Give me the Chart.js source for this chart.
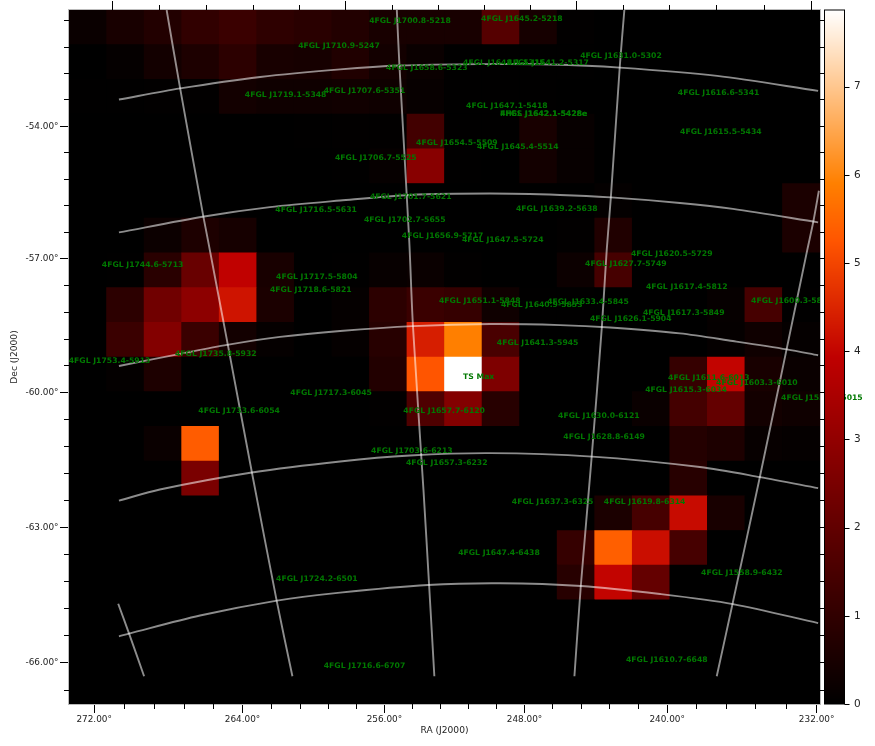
<!DOCTYPE html>
<html>
<head>
<meta charset="utf-8">
<title>TS map</title>
<script src="https://cdn.jsdelivr.net/npm/chart.js@4/dist/chart.umd.min.js"></script>
<style>
  html, body { margin: 0; padding: 0; background: #fff; }
  canvas { display: block; }
</style>
</head>
<body>
<canvas id="tsMap" width="875" height="746"></canvas>
<script>
// all positions are in map pixels: 20 x 20 cells, row 0 on top (WCS image axes)
const tsMax = 7.87;
const tsValues = [
  [.2, .5, .7, 1, 1.2, .95, .85, .7, .5, .5, .5, 1.75, .45, .05, 0, 0, 0, 0, 0, 0],
  [0, .1, .4, .6, .9, .5, .45, .65, .4, .2, .03, .03, .03, .03, 0, 0, 0, 0, 0, 0],
  [.02, .02, .05, .05, .4, .3, .3, .35, .3, .15, .02, .02, .02, 0, 0, 0, 0, 0, 0, 0],
  [0, 0, 0, 0, 0, 0, .03, .05, .05, 1.35, .02, .02, .5, .15, 0, 0, 0, 0, 0, 0],
  [0, 0, 0, 0, 0, 0, 0, .03, .12, 2.8, .02, 0, .4, .15, 0, 0, 0, 0, 0, 0],
  [0, 0, 0, 0, 0, 0, 0, 0, 0, 0, 0, 0, 0, 0, .08, 0, 0, 0, 0, .55],
  [0, 0, .25, .6, .45, 0, 0, 0, 0, 0, 0, 0, 0, .05, .65, 0, 0, 0, 0, .55],
  [0, .03, .85, 2.15, 3.95, .5, 0, .03, .15, .2, .05, 0, 0, .25, 1.45, 0, 0, 0, 0, 0],
  [0, .9, 2.3, 2.9, 4.24, .55, 0, .1, .9, 1.2, 1.1, .3, .03, .03, 0, 0, 0, .12, 1.45, .03],
  [0, 1.2, 2.7, 1.2, .4, .1, 0, .1, .8, 4.4, 5.9, 1.5, 0, 0, 0, 0, 0, .1, .3, .1],
  [0, .08, .6, 0, 0, 0, 0, 0, .7, 5.25, 7.87, 2.6, 0, 0, 0, 0, 1.1, 4, .5, .2],
  [0, 0, 0, 0, 0, 0, 0, 0, .05, 1.6, 2.7, .8, 0, 0, 0, .2, 1.4, 2.05, .4, .3],
  [0, 0, .2, 5.35, 0, 0, 0, 0, 0, 0, 0, 0, 0, 0, 0, 0, .75, .6, .15, .1],
  [0, 0, 0, 2.5, 0, 0, 0, 0, 0, 0, 0, 0, 0, 0, 0, 0, .8, 0, 0, 0],
  [0, 0, 0, 0, 0, 0, 0, 0, 0, 0, 0, 0, 0, 0, .55, 1.45, 4.1, .5, 0, 0],
  [0, 0, 0, 0, 0, 0, 0, 0, 0, 0, 0, 0, 0, 1.1, 5.4, 4.15, 1.45, 0, 0, 0],
  [0, 0, 0, 0, 0, 0, 0, 0, 0, 0, 0, 0, 0, .8, 4, 2.05, 0, 0, 0, 0],
  [0, 0, 0, 0, 0, 0, 0, 0, 0, 0, 0, 0, 0, 0, 0, 0, 0, 0, 0, 0],
  [0, 0, 0, 0, 0, 0, 0, 0, 0, 0, 0, 0, 0, 0, 0, 0, 0, 0, 0, 0],
  [0, 0, 0, 0, 0, 0, 0, 0, 0, 0, 0, 0, 0, 0, 0, 0, 0, 0, 0, 0]
];

const sourceNames = [
  '4FGL J1700.8-5218', '4FGL J1645.2-5218', '4FGL J1710.9-5247', '4FGL J1658.6-5323', '4FGL J1648.1-5315',
  '4FGL J1641.2-5317', '4FGL J1631.0-5302', '4FGL J1719.1-5348', '4FGL J1707.6-5351', '4FGL J1647.1-5418',
  '4FGL J1642.1-5428e', 'FHES J1642.1-5428e', '4FGL J1616.6-5341', '4FGL J1615.5-5434', '4FGL J1654.5-5509',
  '4FGL J1645.4-5514', '4FGL J1706.7-5525', '4FGL J1701.7-5621', '4FGL J1716.5-5631', '4FGL J1702.7-5655',
  '4FGL J1639.2-5638', '4FGL J1656.9-5717', '4FGL J1647.5-5724', '4FGL J1744.6-5713', '4FGL J1717.5-5804',
  '4FGL J1718.6-5821', '4FGL J1620.5-5729', '4FGL J1627.7-5749', '4FGL J1617.4-5812', '4FGL J1600.3-5811',
  '4FGL J1617.3-5849', '4FGL J1626.1-5904', '4FGL J1633.4-5845', '4FGL J1651.1-5848', '4FGL J1640.9-5853',
  '4FGL J1641.3-5945', '4FGL J1753.4-5913', '4FGL J1735.8-5932', '4FGL J1717.3-6045', '4FGL J1733.6-6054',
  '4FGL J1657.7-6120', 'TS Max', '4FGL J1630.0-6121', '4FGL J1628.8-6149', '4FGL J1703.6-6213',
  '4FGL J1657.3-6232', '4FGL J1611.6-6013', '4FGL J1603.3-6010', '4FGL J1615.3-6034', '4FGL J1559.4-6015',
  '4FGL J1637.3-6325', '4FGL J1619.8-6314', '4FGL J1647.4-6438', '4FGL J1558.9-6432', '4FGL J1724.2-6501',
  '4FGL J1716.6-6707', '4FGL J1610.7-6648'
];
const sourceX = [
  9.08, 12.06, 7.19, 9.53, 11.58, 12.76, 14.70, 5.77, 7.87, 11.66,
  12.64, 12.64, 17.30, 17.36, 10.33, 11.95, 8.17, 9.10, 6.58, 8.94,
  12.99, 9.95, 11.55, 1.96, 6.60, 6.44, 16.05, 14.83, 16.45, 19.25,
  16.37, 14.96, 13.82, 10.94, 12.59, 12.48, 1.08, 3.91, 6.98, 4.53,
  9.99, 10.91, 14.11, 14.25, 9.13, 10.06, 17.04, 18.32, 16.43, 20.05,
  12.88, 15.33, 11.45, 17.92, 6.60, 7.87, 15.92
];
const sourceY = [
  .31, .27, 1.03, 1.66, 1.53, 1.54, 1.32, 2.44, 2.33, 2.76,
  2.99, 2.99, 2.38, 3.51, 3.82, 3.94, 4.26, 5.38, 5.76, 6.06,
  5.73, 6.50, 6.64, 7.34, 7.69, 8.06, 7.02, 7.31, 7.97, 8.38,
  8.72, 8.90, 8.41, 8.38, 8.49, 9.59, 10.11, 9.90, 11.03, 11.55,
  11.55, 10.57, 11.69, 12.30, 12.70, 13.05, 10.60, 10.74, 10.94, 11.17,
  14.19, 14.17, 15.66, 16.22, 16.41, 18.90, 18.72
];

// coordinate grid, constant Dec then constant RA
const gridLinesX = [
  [1.33, 2.96, 5.09, 7.22, 8.81, 10.95, 12.81, 14.67, 17.26, 19.95],
  [1.33, 3.60, 5.35, 7.22, 9.08, 11.21, 13.08, 14.43, 16.27, 17.68, 19.95],
  [1.33, 2.96, 4.21, 5.62, 7.22, 9.16, 11.21, 13.08, 14.41, 16.27, 17.68, 19.12, 19.95],
  [1.33, 2.42, 4.87, 7.22, 9.08, 11.21, 13.93, 16.80, 18.40, 19.95],
  [1.33, 1.60, 3.49, 5.54, 7.22, 9.56, 11.48, 13.64, 15.74, 17.68, 19.95],
  [1.31, 1.60, 2.00],
  [2.60, 2.96, 3.58, 3.70, 4.23, 4.87, 5.53, 5.95],
  [8.73, 8.80, 9.06, 9.16, 9.44, 9.59, 9.73],
  [14.79, 14.67, 14.43, 14.32, 14.19, 13.92, 13.63, 13.46],
  [19.97, 19.82, 19.66, 19.11, 18.40, 17.67, 17.25]
];
const gridLinesY = [
  [2.58, 2.26, 1.93, 1.71, 1.60, 1.56, 1.57, 1.66, 1.90, 2.33],
  [6.41, 5.95, 5.68, 5.49, 5.33, 5.29, 5.33, 5.40, 5.56, 5.73, 6.12],
  [10.26, 9.91, 9.65, 9.42, 9.25, 9.11, 9.05, 9.08, 9.15, 9.32, 9.54, 9.78, 9.95],
  [14.14, 13.82, 13.33, 13.01, 12.84, 12.77, 12.87, 13.17, 13.46, 13.78],
  [18.05, 17.97, 17.45, 17.02, 16.79, 16.57, 16.52, 16.60, 16.83, 17.12, 17.67],
  [17.11, 17.97, 19.20],
  [0, 2.26, 5.96, 6.63, 9.65, 13.32, 17.02, 19.20],
  [0, 1.60, 6.63, 9.11, 13.83, 16.57, 19.20],
  [0, 1.60, 5.40, 6.92, 9.14, 12.87, 16.60, 19.20],
  [5.21, 6.11, 6.92, 9.78, 13.45, 17.12, 19.20]
];

const raTicks = [0.67, 4.62, 8.40, 12.13, 15.93, 19.91];
const raLabels = ['272.00°', '264.00°', '256.00°', '248.00°', '240.00°', '232.00°'];
const raMinorTicks = [1.47, 2.27, 3.07, 3.84, 5.39, 6.16, 6.91, 7.65, 9.14, 9.89, 10.63, 11.38, 12.87, 13.64, 14.39, 15.16, 16.71, 17.50, 18.28, 19.10];
const decTicks = [3.35, 7.16, 11.02, 14.91, 18.80];
const decLabels = ['-54.00°', '-57.00°', '-60.00°', '-63.00°', '-66.00°'];
const decMinorTicks = [.30, 1.06, 1.82, 2.57, 4.10, 4.88, 5.63, 6.41, 7.93, 8.70, 9.49, 10.24, 11.80, 12.57, 13.35, 14.13, 15.69, 16.45, 17.24, 18.02, 19.61];
const topTicks = [1.15, 7.36, 13.51, 19.77];
const topMinorTicks = [2.40, 3.66, 4.91, 6.13, 8.61, 9.83, 11.06, 12.28, 14.76, 15.99, 17.24, 18.52];
const colorbarTicks = [0, 1, 2, 3, 4, 5, 6, 7];

// matplotlib gist_heat
function heatColor(v) {
  const t = Math.min(v / tsMax, 1);
  const c = x => Math.round(Math.max(0, Math.min(1, x)) * 255);
  return `rgb(${c(1.5 * t)},${c(2 * t - 1)},${c(4 * t - 3)})`;
}

const cells = [];
tsValues.forEach((row, j) => row.forEach((v, i) => {
  cells.push({ x: i + 0.5, y: [j, j + 1], ts: v });
}));

const gridSets = gridLinesX.map((xs, k) => ({
  type: 'scatter',
  showLine: true,
  data: xs.map((x, n) => ({ x: x, y: gridLinesY[k][n] })),
  borderColor: 'rgba(255,255,255,0.55)',
  borderWidth: 1.9,
  tension: 0.3,
  pointRadius: 0,
  order: 1
}));

const mapDecor = {
  id: 'mapDecor',
  beforeDatasetsDraw(chart) {
    const { ctx, chartArea: a } = chart;
    ctx.fillStyle = '#000';
    ctx.fillRect(a.left, a.top, a.width, a.height);
  },
  afterDatasetsDraw(chart) {
    const { ctx, chartArea: a, scales } = chart;
    const { x, y, cb } = scales;

    // source names
    ctx.save();
    ctx.fillStyle = '#007800';
    ctx.font = 'bold 7.7px "DejaVu Sans"';
    ctx.textAlign = 'center';
    ctx.textBaseline = 'middle';
    sourceNames.forEach((name, i) => {
      ctx.fillText(name, x.getPixelForValue(sourceX[i]), y.getPixelForValue(sourceY[i]));
    });
    ctx.restore();

    // anything past the map edge sits under the colorbar axes
    ctx.fillStyle = '#fff';
    ctx.fillRect(a.right, 0, 24.5, a.bottom);

    // frame
    ctx.strokeStyle = '#bbb';
    ctx.lineWidth = 1;
    ctx.strokeRect(a.left - 0.5, a.top - 0.5, a.width + 1, a.height + 1);

    // minor and top/right ticks, the axes can only do one length
    const tick = (x0, y0, x1, y1) => {
      ctx.beginPath();
      ctx.moveTo(x0, y0);
      ctx.lineTo(x1, y1);
      ctx.stroke();
    };
    const snap = p => Math.round(p) + 0.5;
    ctx.strokeStyle = '#000';
    raMinorTicks.forEach(v => { const p = snap(x.getPixelForValue(v)); tick(p, a.bottom, p, a.bottom + 5); });
    topTicks.forEach(v => { const p = snap(x.getPixelForValue(v)); tick(p, a.top, p, a.top - 9); });
    topMinorTicks.forEach(v => { const p = snap(x.getPixelForValue(v)); tick(p, a.top, p, a.top - 5); });
    decMinorTicks.forEach(v => { const p = snap(y.getPixelForValue(v)); tick(a.left, p, a.left - 5, p); });
    decMinorTicks.concat(decTicks).forEach(v => { const p = snap(y.getPixelForValue(v)); tick(a.right, p, a.right + 4, p); });

    // colorbar
    const barLeft = a.right + 4.5, barW = 20;
    for (let p = Math.floor(a.top); p < a.bottom; p++) {
      ctx.fillStyle = heatColor(cb.getValueForPixel(p + 0.5));
      ctx.fillRect(barLeft, p, barW, 1);
    }
    ctx.strokeStyle = '#000';
    ctx.strokeRect(barLeft, a.top, barW, a.height);
    colorbarTicks.forEach(v => {
      const p = snap(cb.getPixelForValue(v));
      tick(barLeft + barW, p, barLeft + barW + 5, p);
    });
  }
};

new Chart(document.getElementById('tsMap'), {
  type: 'bar',
  data: {
    datasets: [
      {
        data: cells,
        backgroundColor: cells.map(c => heatColor(c.ts)),
        barThickness: 37.55,
        grouped: false,
        order: 2
      },
      ...gridSets
    ]
  },
  options: {
    responsive: false,
    animation: false,
    layout: { padding: { top: 10 } },
    plugins: { legend: { display: false }, tooltip: { enabled: false } },
    scales: {
      x: {
        type: 'linear',
        offset: false,
        min: 0,
        max: 20,
        afterBuildTicks: s => { s.ticks = raTicks.map(v => ({ value: v })); },
        afterFit: s => { s.height = 42; s.paddingLeft = 0; s.paddingRight = 0; },
        grid: { offset: false, drawOnChartArea: false, tickLength: 9, tickColor: '#000' },
        border: { display: false },
        ticks: {
          autoSkip: false,
          maxRotation: 0,
          padding: 1,
          color: '#222',
          font: { family: 'DejaVu Sans', size: 8.9 },
          callback: (v, i) => raLabels[i]
        },
        title: {
          display: true,
          text: 'RA (J2000)',
          color: '#222',
          font: { family: 'DejaVu Sans', size: 9.1 },
          padding: { top: 0, bottom: 10 }
        }
      },
      y: {
        type: 'linear',
        reverse: true,
        min: 0,
        max: 20,
        afterBuildTicks: s => { s.ticks = decTicks.map(v => ({ value: v })); },
        afterFit: s => { s.width = 69; s.paddingTop = 0; s.paddingBottom = 0; },
        grid: { drawOnChartArea: false, tickLength: 9, tickColor: '#000' },
        border: { display: false },
        ticks: {
          autoSkip: false,
          padding: 1.5,
          color: '#222',
          font: { family: 'DejaVu Sans', size: 8.9 },
          callback: (v, i) => decLabels[i]
        },
        title: {
          display: true,
          text: 'Dec (J2000)',
          color: '#222',
          font: { family: 'DejaVu Sans', size: 9.1 },
          padding: { top: 9, bottom: 0 }
        }
      },
      cb: {
        type: 'linear',
        position: 'right',
        min: 0,
        max: tsMax,
        afterBuildTicks: s => { s.ticks = colorbarTicks.map(v => ({ value: v })); },
        afterFit: s => { s.width = 55; s.paddingTop = 0; s.paddingBottom = 0; },
        grid: { display: false, drawTicks: false },
        border: { display: false },
        ticks: {
          padding: 34,
          color: '#222',
          font: { family: 'DejaVu Sans', size: 10.5 },
          callback: v => String(v)
        }
      }
    }
  },
  plugins: [mapDecor]
});
</script>
</body>
</html>
